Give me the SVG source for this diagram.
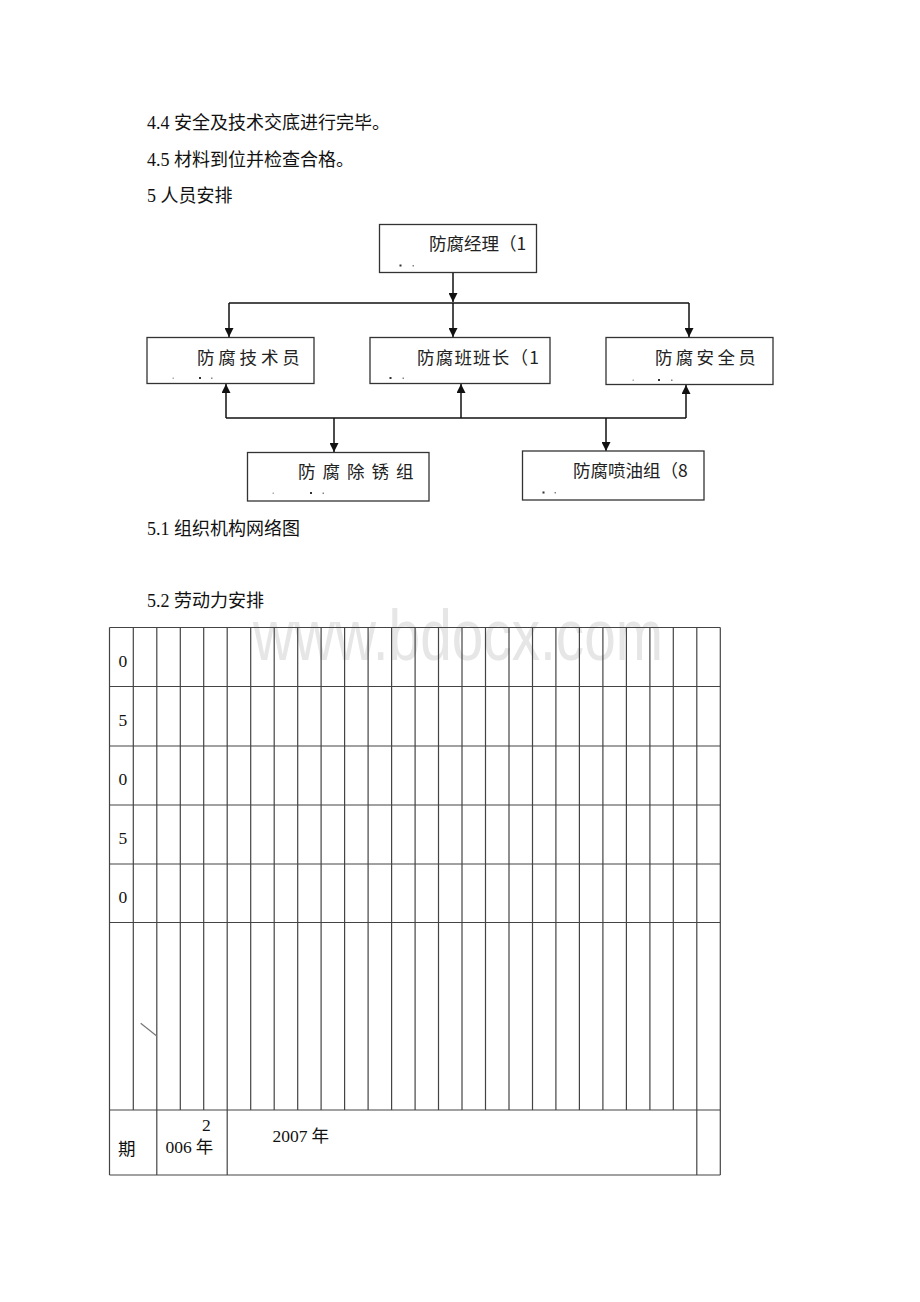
<svg xmlns="http://www.w3.org/2000/svg" width="920" height="1302" viewBox="0 0 920 1302">
<style>
.body{font-family:"Liberation Serif","Noto Sans CJK SC",serif;font-size:18px;fill:#111}
.box{fill:#fff;stroke:#333;stroke-width:1.3}
.bt{font-family:"Noto Sans CJK SC","Liberation Sans",sans-serif;font-size:17.5px;fill:#222}
.dot{fill:#333}
.conn{stroke:#111;stroke-width:1.5;fill:none}
.grid{stroke:#444;stroke-width:1.2;fill:none}
.cell{font-family:"Liberation Serif","Noto Sans CJK SC",serif;font-size:17.5px;fill:#111}
.wm{font-family:"Liberation Sans",Arial,sans-serif;font-size:72px;fill:#e6e6e6}
</style>
<defs>
<marker id="arr" viewBox="0 0 10 10" refX="10" refY="5" markerWidth="10" markerHeight="9" markerUnits="userSpaceOnUse" orient="auto">
<path d="M0,0 L10,5 L0,10 z" fill="#111"/>
</marker>
</defs>
<rect width="920" height="1302" fill="#fff"/>

<g id="headings">
<text class="body" x="147" y="129">4.4 安全及技术交底进行完毕。</text>
<text class="body" x="147" y="166">4.5 材料到位并检查合格。</text>
<text class="body" x="147" y="202">5 人员安排</text>
<text class="body" x="147" y="535">5.1 组织机构网络图</text>
<text class="body" x="147" y="607">5.2 劳动力安排</text>
</g>

<g id="connectors">
<line class="conn" x1="453" y1="272" x2="453" y2="302" marker-end="url(#arr)"/>
<line class="conn" x1="229" y1="303" x2="689" y2="303"/>
<line class="conn" x1="229" y1="303" x2="229" y2="337" marker-end="url(#arr)"/>
<line class="conn" x1="453" y1="303" x2="453" y2="337" marker-end="url(#arr)"/>
<line class="conn" x1="689" y1="303" x2="689" y2="337" marker-end="url(#arr)"/>
<line class="conn" x1="226" y1="418" x2="686" y2="418"/>
<line class="conn" x1="226" y1="418" x2="226" y2="384" marker-end="url(#arr)"/>
<line class="conn" x1="461" y1="418" x2="461" y2="384" marker-end="url(#arr)"/>
<line class="conn" x1="686" y1="418" x2="686" y2="385" marker-end="url(#arr)"/>
<line class="conn" x1="334" y1="418" x2="334" y2="452" marker-end="url(#arr)"/>
<line class="conn" x1="606" y1="418" x2="606" y2="451" marker-end="url(#arr)"/>
</g>

<g id="n-manager">
<rect class="box" x="379.5" y="224.5" width="157" height="48"/>
<text class="bt" x="429" y="250">防腐经理（1</text>
<rect class="dot" x="399.5" y="264.5" width="2" height="2"/>
<rect class="dot" x="412.5" y="265" width="1.5" height="1.5" opacity="0.6"/>
</g>

<g id="n-tech">
<rect class="box" x="147" y="337.5" width="167" height="46"/>
<text class="bt" x="197" y="364" letter-spacing="3.8">防腐技术员</text>
<rect class="dot" x="172.5" y="377.5" width="1.5" height="1.5" opacity="0.4"/>
<rect class="dot" x="199" y="377" width="2" height="2"/>
<rect class="dot" x="211" y="377.5" width="1.5" height="1.5" opacity="0.6"/>
</g>

<g id="n-leader">
<rect class="box" x="370" y="337.5" width="180" height="46"/>
<text class="bt" x="417" y="364" letter-spacing="1.2">防腐班班长（1</text>
<rect class="dot" x="389.5" y="377" width="2" height="2"/>
<rect class="dot" x="402.5" y="377.5" width="1.5" height="1.5" opacity="0.6"/>
</g>

<g id="n-safety">
<rect class="box" x="606" y="337.5" width="167" height="47"/>
<text class="bt" x="655" y="364" letter-spacing="3.3">防腐安全员</text>
<rect class="dot" x="632.5" y="379.5" width="1.5" height="1.5" opacity="0.4"/>
<rect class="dot" x="658" y="379" width="2" height="2"/>
<rect class="dot" x="671" y="379.5" width="1.5" height="1.5" opacity="0.6"/>
</g>

<g id="n-rust">
<rect class="box" x="247.5" y="452.5" width="181.5" height="48.5"/>
<text class="bt" x="298" y="478" letter-spacing="7">防腐除锈组</text>
<rect class="dot" x="272.5" y="492.5" width="1.5" height="1.5" opacity="0.4"/>
<rect class="dot" x="310" y="492" width="2" height="2"/>
<rect class="dot" x="322.5" y="492.5" width="1.5" height="1.5" opacity="0.6"/>
</g>

<g id="n-spray">
<rect class="box" x="522.5" y="451" width="181.5" height="49"/>
<text class="bt" x="573" y="477">防腐喷油组（8</text>
<rect class="dot" x="542.5" y="491.5" width="2" height="2"/>
<rect class="dot" x="554.5" y="492" width="1.5" height="1.5" opacity="0.6"/>
</g>

<g id="watermark">
<text class="wm" x="253" y="660" textLength="410" lengthAdjust="spacingAndGlyphs">www.bdocx.com</text>
</g>

<g id="table">
<g class="grid">
<line x1="109.5" y1="627.5" x2="720.3" y2="627.5"/>
<line x1="109.5" y1="686.5" x2="720.3" y2="686.5"/>
<line x1="109.5" y1="746" x2="720.3" y2="746"/>
<line x1="109.5" y1="805" x2="720.3" y2="805"/>
<line x1="109.5" y1="864" x2="720.3" y2="864"/>
<line x1="109.5" y1="922.5" x2="720.3" y2="922.5"/>
<line x1="109.5" y1="1110" x2="720.3" y2="1110"/>
<line x1="109.5" y1="1175" x2="720.3" y2="1175"/>
<line x1="109.5" y1="627.5" x2="109.5" y2="1175"/>
<line x1="720.3" y1="627.5" x2="720.3" y2="1175"/>
<line x1="156.8" y1="1110" x2="156.8" y2="1175"/>
<line x1="227.2" y1="1110" x2="227.2" y2="1175"/>
<line x1="696.8" y1="1110" x2="696.8" y2="1175"/>
<line x1="133.3" y1="627.5" x2="133.3" y2="1110"/>
<line x1="156.8" y1="627.5" x2="156.8" y2="1110"/>
<line x1="180.3" y1="627.5" x2="180.3" y2="1110"/>
<line x1="203.7" y1="627.5" x2="203.7" y2="1110"/>
<line x1="227.2" y1="627.5" x2="227.2" y2="1110"/>
<line x1="250.7" y1="627.5" x2="250.7" y2="1110"/>
<line x1="274.2" y1="627.5" x2="274.2" y2="1110"/>
<line x1="297.7" y1="627.5" x2="297.7" y2="1110"/>
<line x1="321.1" y1="627.5" x2="321.1" y2="1110"/>
<line x1="344.6" y1="627.5" x2="344.6" y2="1110"/>
<line x1="368.1" y1="627.5" x2="368.1" y2="1110"/>
<line x1="391.6" y1="627.5" x2="391.6" y2="1110"/>
<line x1="415.1" y1="627.5" x2="415.1" y2="1110"/>
<line x1="438.5" y1="627.5" x2="438.5" y2="1110"/>
<line x1="462" y1="627.5" x2="462" y2="1110"/>
<line x1="485.5" y1="627.5" x2="485.5" y2="1110"/>
<line x1="509" y1="627.5" x2="509" y2="1110"/>
<line x1="532.5" y1="627.5" x2="532.5" y2="1110"/>
<line x1="555.9" y1="627.5" x2="555.9" y2="1110"/>
<line x1="579.4" y1="627.5" x2="579.4" y2="1110"/>
<line x1="602.9" y1="627.5" x2="602.9" y2="1110"/>
<line x1="626.4" y1="627.5" x2="626.4" y2="1110"/>
<line x1="649.9" y1="627.5" x2="649.9" y2="1110"/>
<line x1="673.3" y1="627.5" x2="673.3" y2="1110"/>
<line x1="696.8" y1="627.5" x2="696.8" y2="1110"/>
</g>
<line x1="140.7" y1="1023.3" x2="156.7" y2="1036" stroke="#777" stroke-width="1.2"/>
<text class="cell" x="118.5" y="667">0</text>
<text class="cell" x="118.5" y="726">5</text>
<text class="cell" x="118.5" y="785">0</text>
<text class="cell" x="118.5" y="844">5</text>
<text class="cell" x="118.5" y="903">0</text>
<text class="cell" x="118" y="1155">期</text>
<text class="cell" x="202" y="1131">2</text>
<text class="cell" x="165.5" y="1153">006<tspan dx="4">年</tspan></text>
<text class="cell" x="272.5" y="1142">2007<tspan dx="4">年</tspan></text>
</g>
</svg>
